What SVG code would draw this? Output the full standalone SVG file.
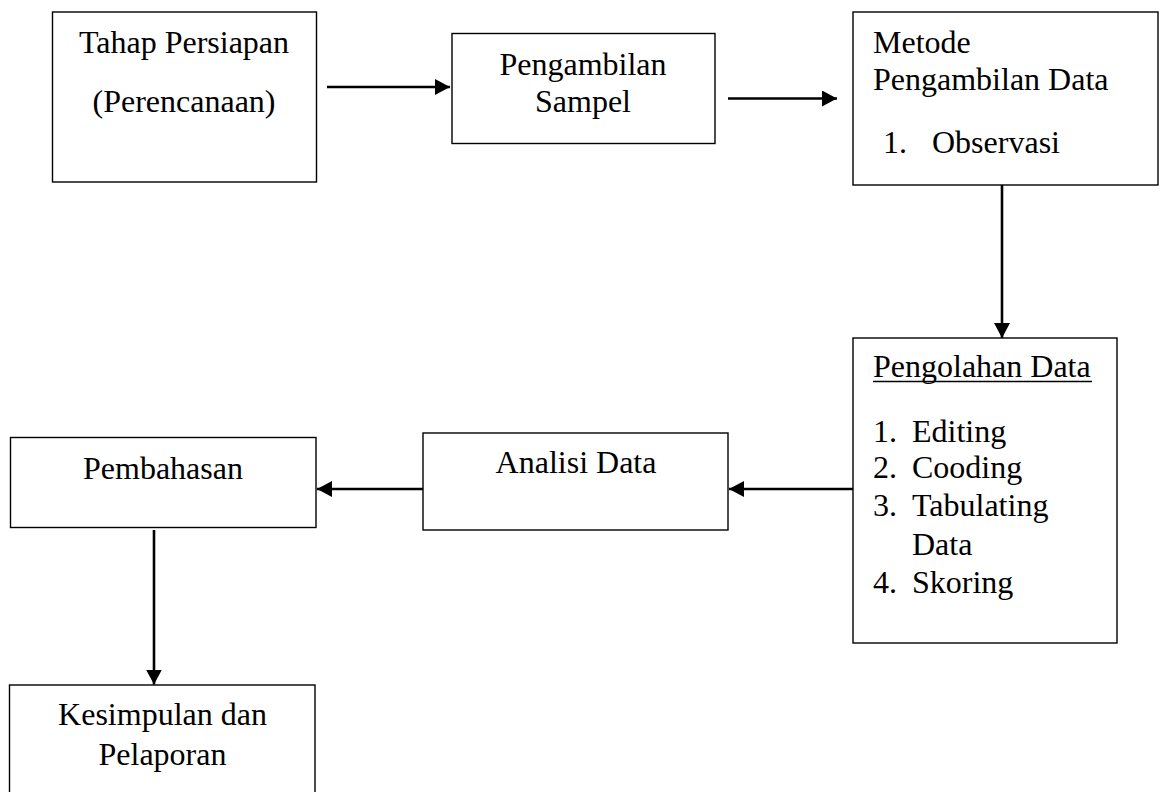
<svg xmlns="http://www.w3.org/2000/svg" width="1164" height="792" viewBox="0 0 1164 792">
<defs>
<style>
.box{fill:#fff;stroke:#000;stroke-width:1.4}
.t{font-family:"Liberation Serif","Times New Roman",serif;font-size:32px;fill:#000}
.c{text-anchor:middle}
.con{stroke:#000;stroke-width:2.6;fill:none;marker-end:url(#ah)}
</style>
<marker id="ah" markerUnits="userSpaceOnUse" markerWidth="16" markerHeight="18" refX="15" refY="8" orient="auto">
<path d="M0,0 L15,8 L0,16 Z" fill="#000"/>
</marker>
</defs>
<rect width="1164" height="792" fill="#fff"/>
<g id="n1">
<rect class="box" x="52.5" y="12" width="264" height="170"/>
<text class="t c" x="184" y="53">Tahap Persiapan</text>
<text class="t c" x="184" y="112">(Perencanaan)</text>
</g>
<g id="n2">
<rect class="box" x="452" y="33.5" width="263" height="110"/>
<text class="t c" x="583" y="75">Pengambilan</text>
<text class="t c" x="583" y="112">Sampel</text>
</g>
<g id="n3">
<rect class="box" x="853" y="12" width="305" height="173"/>
<text class="t" x="873" y="53">Metode</text>
<text class="t" x="873" y="90">Pengambilan Data</text>
<text class="t" x="883" y="153">1.</text>
<text class="t" x="932" y="153">Observasi</text>
</g>
<g id="n4">
<rect class="box" x="853" y="338" width="264" height="305"/>
<text class="t" x="873" y="377">Pengolahan Data</text>
<line x1="873" y1="381.5" x2="1092" y2="381.5" stroke="#000" stroke-width="1.6"/>
<text class="t" x="873" y="442">1.</text><text class="t" x="912" y="442">Editing</text>
<text class="t" x="873" y="478">2.</text><text class="t" x="912" y="478">Cooding</text>
<text class="t" x="873" y="516">3.</text><text class="t" x="912" y="516">Tabulating</text>
<text class="t" x="912" y="555">Data</text>
<text class="t" x="873" y="593">4.</text><text class="t" x="912" y="593">Skoring</text>
</g>
<g id="n5">
<rect class="box" x="423" y="433" width="305" height="97"/>
<text class="t c" x="576" y="473">Analisi Data</text>
</g>
<g id="n6">
<rect class="box" x="10.5" y="437.5" width="305.5" height="90"/>
<text class="t c" x="163" y="479">Pembahasan</text>
</g>
<g id="n7">
<rect class="box" x="9.5" y="685" width="305.5" height="130"/>
<text class="t c" x="162.5" y="725">Kesimpulan dan</text>
<text class="t c" x="162.5" y="765">Pelaporan</text>
</g>
<g id="connectors">
<line class="con" x1="327" y1="87" x2="450" y2="87"/>
<line class="con" x1="728" y1="98.5" x2="837" y2="98.5"/>
<line class="con" x1="1002" y1="185" x2="1002" y2="338"/>
<line class="con" x1="853" y1="489" x2="729" y2="489"/>
<line class="con" x1="423" y1="489" x2="317" y2="489"/>
<line class="con" x1="154" y1="530" x2="154" y2="684.5"/>
</g>
</svg>
